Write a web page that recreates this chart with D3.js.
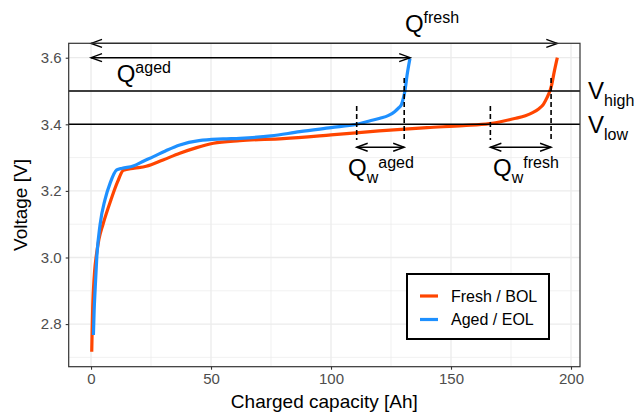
<!DOCTYPE html>
<html>
<head>
  <meta charset="utf-8">
  <title>Voltage vs charged capacity</title>
  <style type="text/css">
    body { margin: 0; background: #fff; }
    svg { display: block; font-family: "Liberation Sans", Arial, Helvetica, sans-serif; }
  </style>
</head>
<body>
  <svg width="636" height="414"></svg>
  <script src="https://d3js.org/d3.v7.min.js"></script>
  <script>
  // 1. data
  const freshQ = [0.3, 0.5, 0.7, 1, 1.5, 2.1, 3.3, 5, 8.3, 11, 13.5, 18, 23, 30, 37, 44, 51, 62, 80, 100, 120, 140, 155, 166, 172, 177, 181, 184, 186.5, 188.5, 190, 191.2, 192, 192.8, 194.3];
  const freshV = [2.717, 2.79, 2.85, 2.902, 2.96, 3.0, 3.055, 3.1, 3.173, 3.226, 3.262, 3.268, 3.274, 3.293, 3.313, 3.33, 3.343, 3.351, 3.357, 3.368, 3.38, 3.39, 3.396, 3.402, 3.41, 3.418, 3.426, 3.435, 3.446, 3.46, 3.48, 3.50, 3.52, 3.55, 3.60];
  const agedQ = [1, 1.3, 1.7, 2.4, 3.8, 5.8, 8, 10.7, 13, 17.6, 22, 26, 31, 37, 45, 55, 62, 75, 87, 100, 110.7, 116, 120.4, 124, 126.5, 128.3, 129.4, 130.2, 130.8, 131.7, 132.9];
  const agedV = [2.767, 2.84, 2.902, 3.0, 3.1, 3.173, 3.224, 3.263, 3.268, 3.275, 3.29, 3.303, 3.32, 3.338, 3.351, 3.356, 3.358, 3.365, 3.378, 3.39, 3.40, 3.41, 3.418, 3.427, 3.438, 3.45, 3.46, 3.48, 3.5, 3.548, 3.598];

  const seriesNames = ["Fresh / BOL", "Aged / EOL"];
  const seriesColors = ["#FF4500", "#1E90FF"];

  const xTicks = [0, 50, 100, 150, 200];
  const xMinor = [25, 75, 125, 175];
  const yTicks = [2.8, 3.0, 3.2, 3.4, 3.6];
  const yMinor = [2.7, 2.9, 3.1, 3.3, 3.5];

  const vLevels = [3.5, 3.4];              // V_high, V_low
  const capArrows = [                      // Q_fresh, Q_aged (x0, x1, V)
    [0, 194.3, 3.643],
    [0, 133, 3.6]
  ];
  const dashedQ = [110.7, 130.5, 166.4, 191.7];
  const dashedTop = [3.455, 3.539, 3.455, 3.539];
  const dashedBottom = [3.353, 3.348, 3.353, 3.348];
  const windowArrows = [                   // Q_w aged, Q_w fresh (x0, x1, V)
    [110.7, 130.5, 3.331],
    [166.4, 191.7, 3.331]
  ];

  // 2. layout
  const panel = { left: 68.7, right: 580, top: 43.3, bottom: 366.7 };

  const x = d3.scaleLinear().domain([-9.3, 203.75]).range([panel.left, panel.right]);
  const y = d3.scaleLinear().domain([2.672, 3.6433]).range([panel.bottom, panel.top]);

  const svg = d3.select("svg");

  // grid
  const grid = svg.append("g");
  grid.selectAll(".xminor").data(xMinor).enter().append("line")
    .attr("x1", d => x(d)).attr("x2", d => x(d))
    .attr("y1", panel.top).attr("y2", panel.bottom)
    .attr("stroke", "#EBEBEB").attr("stroke-width", 0.7);
  grid.selectAll(".yminor").data(yMinor).enter().append("line")
    .attr("y1", d => y(d)).attr("y2", d => y(d))
    .attr("x1", panel.left).attr("x2", panel.right)
    .attr("stroke", "#EBEBEB").attr("stroke-width", 0.7);
  grid.selectAll(".xmajor").data(xTicks).enter().append("line")
    .attr("x1", d => x(d)).attr("x2", d => x(d))
    .attr("y1", panel.top).attr("y2", panel.bottom)
    .attr("stroke", "#EBEBEB").attr("stroke-width", 1.3);
  grid.selectAll(".ymajor").data(yTicks).enter().append("line")
    .attr("y1", d => y(d)).attr("y2", d => y(d))
    .attr("x1", panel.left).attr("x2", panel.right)
    .attr("stroke", "#EBEBEB").attr("stroke-width", 1.3);

  // curves
  const line = d3.line().x(d => x(d[0])).y(d => y(d[1])).curve(d3.curveMonotoneX);
  const series = [d3.zip(freshQ, freshV), d3.zip(agedQ, agedV)];
  svg.append("g").selectAll("path").data(series).enter().append("path")
    .attr("d", line)
    .attr("fill", "none")
    .attr("stroke", (d, i) => seriesColors[i])
    .attr("stroke-width", 3.2);

  // V_high / V_low lines
  svg.append("g").selectAll("line").data(vLevels).enter().append("line")
    .attr("x1", panel.left).attr("x2", panel.right)
    .attr("y1", d => y(d)).attr("y2", d => y(d))
    .attr("stroke", "#000").attr("stroke-width", 1.6);

  // dashed verticals
  svg.append("g").selectAll("line").data(dashedQ).enter().append("line")
    .attr("x1", d => x(d)).attr("x2", d => x(d))
    .attr("y1", (d, i) => y(dashedTop[i])).attr("y2", (d, i) => y(dashedBottom[i]))
    .attr("stroke", "#000").attr("stroke-width", 1.6)
    .attr("stroke-dasharray", "5,3");

  function head(px, py, dir) {
    const L = 11, hw = 4;
    return `M${px - dir * L},${py - hw}L${px},${py}L${px - dir * L},${py + hw}`;
  }
  function arrow(g, a) {
    const x0 = x(a[0]), x1 = x(a[1]), yy = y(a[2]);
    g.append("line").attr("x1", x0).attr("x2", x1).attr("y1", yy).attr("y2", yy)
      .attr("stroke", "#000").attr("stroke-width", 1.4);
    g.append("path").attr("d", head(x1, yy, 1) + head(x0, yy, -1))
      .attr("fill", "none").attr("stroke", "#000").attr("stroke-width", 1.4)
      .attr("stroke-linejoin", "miter");
  }
  const ag = svg.append("g");
  capArrows.forEach(a => arrow(ag, a));
  windowArrows.forEach(a => arrow(ag, a));

  // panel border
  svg.append("rect")
    .attr("x", panel.left).attr("y", panel.top)
    .attr("width", panel.right - panel.left).attr("height", panel.bottom - panel.top)
    .attr("fill", "none").attr("stroke", "#333").attr("stroke-width", 1.2);

  // axes
  const xAxis = d3.axisBottom(x).tickValues(xTicks).tickSize(3).tickPadding(4).tickFormat(d3.format("d"));
  const yAxis = d3.axisLeft(y).tickValues(yTicks).tickSize(3).tickPadding(4).tickFormat(d3.format(".1f"));
  const gx = svg.append("g").attr("transform", `translate(0,${panel.bottom})`).call(xAxis);
  const gy = svg.append("g").attr("transform", `translate(${panel.left},0)`).call(yAxis);
  [gx, gy].forEach(g => {
    g.select(".domain").remove();
    g.selectAll(".tick line").attr("stroke", "#333").attr("stroke-width", 1.1);
    g.selectAll(".tick text").attr("fill", "#4D4D4D").attr("font-size", 15)
      .attr("font-family", "Liberation Sans, Arial, sans-serif");
  });

  svg.append("text")
    .attr("x", (panel.left + panel.right) / 2).attr("y", 408)
    .attr("text-anchor", "middle").attr("font-size", 19)
    .text("Charged capacity [Ah]");
  svg.append("text")
    .attr("transform", `translate(27,${(panel.top + panel.bottom) / 2}) rotate(-90)`)
    .attr("text-anchor", "middle").attr("font-size", 19)
    .text("Voltage [V]");

  // annotation labels: [x, V, main, sub, sup]
  const labels = [
    [130.8, 3.677, "Q", "", "fresh"],
    [10.7, 3.528, "Q", "", "aged"],
    [107.1, 3.245, "Q", "w", "aged"],
    [167.5, 3.245, "Q", "w", "fresh"],
    [207.1, 3.475, "V", "high", ""],
    [207.1, 3.375, "V", "low", ""]
  ];
  labels.forEach(l => {
    const t = svg.append("text")
      .attr("x", x(l[0])).attr("y", y(l[1]))
      .attr("font-size", 24).attr("fill", "#000");
    t.append("tspan").text(l[2]);
    if (l[3]) t.append("tspan").attr("font-size", 16).attr("dy", 7).text(l[3]);
    if (l[4]) t.append("tspan").attr("font-size", 16).attr("dy", l[3] ? -15 : -9).text(l[4]);
  });

  // legend
  const lg = svg.append("g").attr("transform", "translate(407,274)");
  lg.append("rect").attr("width", 142).attr("height", 65)
    .attr("fill", "#fff").attr("stroke", "#000").attr("stroke-width", 2);
  const li = lg.selectAll(".item").data(seriesNames).enter().append("g")
    .attr("transform", (d, i) => `translate(0,${22 + i * 23.5})`);
  li.append("line").attr("x1", 13).attr("x2", 31).attr("y1", 0).attr("y2", 0)
    .attr("stroke", (d, i) => seriesColors[i]).attr("stroke-width", 3.2);
  li.append("text").attr("x", 44).attr("y", 5.5).attr("font-size", 16).text(d => d);
  </script>
</body>
</html>
